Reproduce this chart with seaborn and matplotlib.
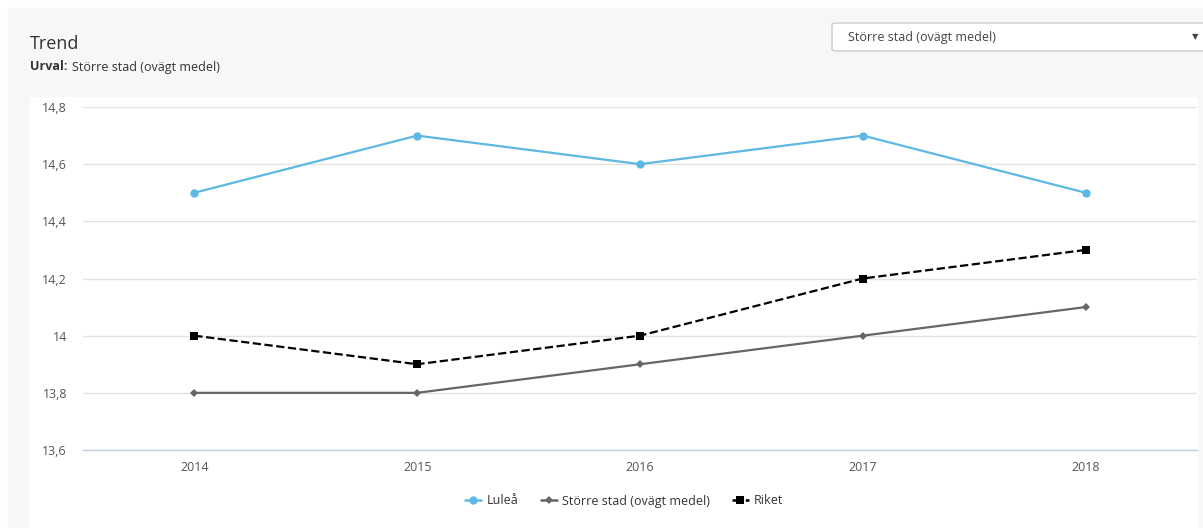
import pandas as pd
import seaborn as sns
import matplotlib.pyplot as plt
from matplotlib.patches import Rectangle, FancyBboxPatch
from matplotlib.lines import Line2D

# data
years = ['2014', '2015', '2016', '2017', '2018']
lulea = [14.5, 14.7, 14.6, 14.7, 14.5]
storre_stad = [13.8, 13.8, 13.9, 14.0, 14.1]
riket = [14.0, 13.9, 14.0, 14.2, 14.3]
series_names = ['Luleå', 'Större stad (ovägt medel)', 'Riket']

df = pd.DataFrame({
    'year': years * 3,
    'value': lulea + storre_stad + riket,
    'serie': [series_names[0]] * 5 + [series_names[1]] * 5 + [series_names[2]] * 5,
})

colors = {'Luleå': '#5db8e3', 'Större stad (ovägt medel)': '#666666', 'Riket': '#000000'}
markers = {'Luleå': 'o', 'Större stad (ovägt medel)': 'D', 'Riket': 's'}
msizes = {'Luleå': 6, 'Större stad (ovägt medel)': 4.5, 'Riket': 6}

sns.set_style('white')
plt.rcParams['font.family'] = ['Open Sans', 'DejaVu Sans']

fig = plt.figure(figsize=(12.03, 5.28), dpi=100)
W, H = 1203, 528

# bakgrundspaneler
fig.patches.append(Rectangle((8 / W, 0), 1, 1 - 8 / H, transform=fig.transFigure,
                             color='#f7f7f7', zorder=0))
fig.patches.append(Rectangle((30 / W, 0), (1197 - 30) / W, 1 - 97 / H,
                             transform=fig.transFigure, color='white', zorder=0))

ax = fig.add_axes([83 / W, 1 - 450 / H, (1197 - 83) / W, (450 - 107) / H])
ax.set_facecolor('none')
ax.set_zorder(2)

for name in series_names:
    sub = df[df['serie'] == name]
    sns.lineplot(data=sub, x='year', y='value', ax=ax, color=colors[name],
                 marker=markers[name], markersize=msizes[name],
                 markeredgewidth=0, linewidth=1.6,
                 linestyle='--' if name == 'Riket' else '-',
                 legend=False, zorder=3)

ax.set_xlim(-0.5, 4.5)
ax.set_ylim(13.6, 14.8)
yticks = [13.6, 13.8, 14.0, 14.2, 14.4, 14.6, 14.8]
ax.set_yticks(yticks)
ax.set_yticklabels([('%g' % v).replace('.', ',') for v in yticks])
ax.yaxis.grid(True, color='#e3e3e3', linewidth=1)
ax.set_xlabel('')
ax.set_ylabel('')
for s in ['top', 'right', 'left']:
    ax.spines[s].set_visible(False)
ax.spines['bottom'].set_color('#c0d0e0')
ax.spines['bottom'].set_linewidth(1)
ax.tick_params(axis='both', length=0, labelsize=9, labelcolor='#555555')
ax.tick_params(axis='y', pad=11.5)
ax.tick_params(axis='x', pad=8)

# rubriker
fig.text(30 / W, 1 - 44 / H, 'Trend', fontsize=13, color='#333333', va='center')
fig.text(30 / W, 1 - 67 / H, 'Urval:', fontsize=9, color='#333333', va='center',
         fontweight='bold')
fig.text(72 / W, 1 - 67 / H, 'Större stad (ovägt medel)', fontsize=9,
         color='#333333', va='center')

# dropdown
fig.patches.append(FancyBboxPatch((832 / W, 1 - 51 / H), (1210 - 832) / W, 28 / H,
                                  boxstyle='round,pad=0,rounding_size=0.004',
                                  transform=fig.transFigure, facecolor='white',
                                  edgecolor='#cccccc', linewidth=1, zorder=1))
fig.text(848 / W, 1 - 38 / H, 'Större stad (ovägt medel)', fontsize=9,
         color='#444444', va='center')
fig.text(1195 / W, 1 - 37 / H, '▼', fontsize=6, color='#444444', va='center',
         ha='center', family=['DejaVu Sans'])

# legend
handles = [Line2D([], [], color=colors[n], marker=markers[n], markersize=msizes[n],
                  markeredgewidth=0, linewidth=1.8,
                  linestyle='--' if n == 'Riket' else '-') for n in series_names]
fig.legend(handles, series_names, loc='center', bbox_to_anchor=(624 / W, 1 - 501 / H),
           ncol=3, frameon=False, fontsize=9, handlelength=1.3, handletextpad=0.4,
           columnspacing=1.8, labelcolor='#333333')

plt.savefig('out.png', dpi=100)
